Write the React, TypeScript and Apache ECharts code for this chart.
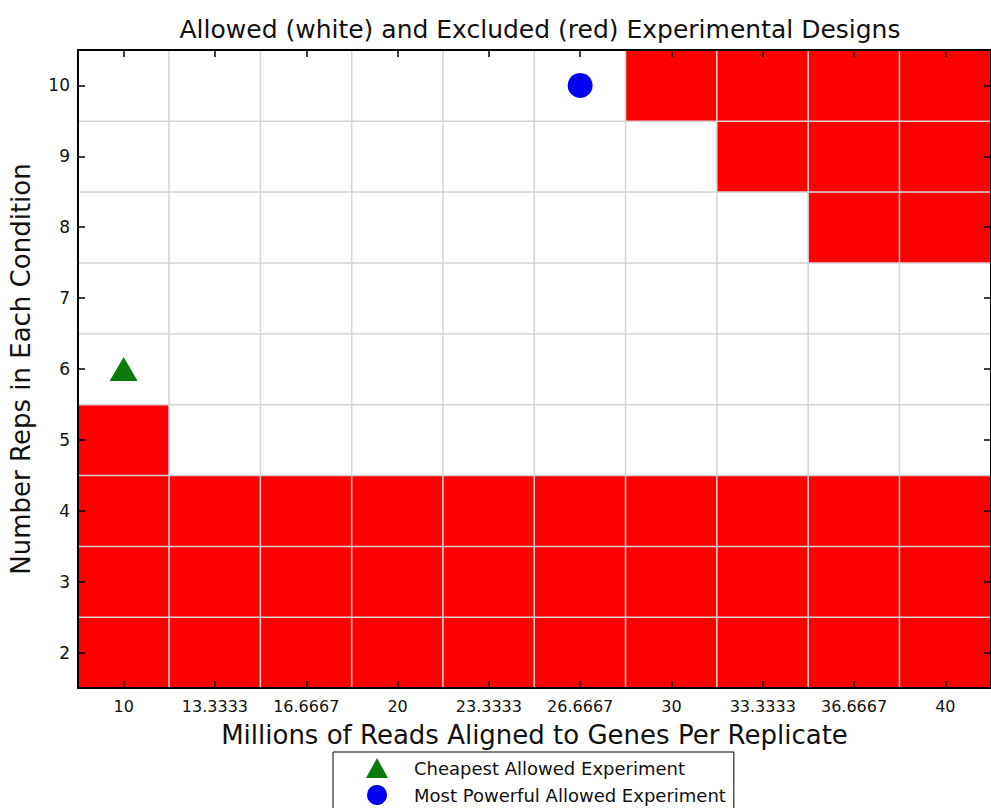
import { useEffect, useRef } from 'react'
import * as echarts from 'echarts'

// millions of reads per replicate (x categories)
const readLabels = ['10', '13.3333', '16.6667', '20', '23.3333', '26.6667', '30', '33.3333', '36.6667', '40']
// replicates per condition (y categories, bottom to top)
const repLabels = ['2', '3', '4', '5', '6', '7', '8', '9', '10']

// 1 = excluded (red), 0 = allowed (white); one row per rep count
const excluded2 = [1, 1, 1, 1, 1, 1, 1, 1, 1, 1]
const excluded3 = [1, 1, 1, 1, 1, 1, 1, 1, 1, 1]
const excluded4 = [1, 1, 1, 1, 1, 1, 1, 1, 1, 1]
const excluded5 = [1, 0, 0, 0, 0, 0, 0, 0, 0, 0]
const excluded6 = [0, 0, 0, 0, 0, 0, 0, 0, 0, 0]
const excluded7 = [0, 0, 0, 0, 0, 0, 0, 0, 0, 0]
const excluded8 = [0, 0, 0, 0, 0, 0, 0, 0, 1, 1]
const excluded9 = [0, 0, 0, 0, 0, 0, 0, 1, 1, 1]
const excluded10 = [0, 0, 0, 0, 0, 0, 1, 1, 1, 1]
const excludedRows = [excluded2, excluded3, excluded4, excluded5, excluded6, excluded7, excluded8, excluded9, excluded10]

const cheapest = ['10', '6']
const mostPowerful = ['26.6667', '10']

const FONT = 'DejaVu Sans'

export default function App() {
  const chartRef = useRef<HTMLDivElement>(null)

  useEffect(() => {
    if (!chartRef.current) return
    const chart = echarts.init(chartRef.current, null, { renderer: 'svg' })

    const cells: number[][] = []
    excludedRows.forEach((row, yi) => {
      row.forEach((v, xi) => cells.push([xi, yi, v]))
    })

    const tickStyle = {
      show: true,
      inside: true,
      length: 7,
      interval: 0,
      alignWithLabel: true,
      lineStyle: { color: '#000', width: 1.5 },
    }
    const lineStyle = { show: true, lineStyle: { color: '#000', width: 2 } }

    chart.setOption({
      animation: false,
      title: {
        text: 'Allowed (white) and Excluded (red) Experimental Designs',
        left: 535,
        top: 12,
        textAlign: 'center',
        textStyle: { fontFamily: FONT, fontSize: 25, fontWeight: 'normal', color: '#111' },
      },
      grid: { left: 78, top: 50, width: 914, height: 638 },
      legend: {
        orient: 'vertical',
        left: 333,
        top: 752,
        height: 80,
        data: ['Cheapest Allowed Experiment', 'Most Powerful Allowed Experiment'],
        backgroundColor: '#fff',
        borderColor: '#000',
        borderWidth: 1,
        borderRadius: 0,
        padding: [6, 8, 8, 33],
        itemWidth: 22,
        itemHeight: 20,
        itemGap: 7,
        textStyle: { fontFamily: FONT, fontSize: 18, color: '#111', padding: [0, 0, 0, 21] },
      },
      visualMap: {
        show: false,
        type: 'piecewise',
        seriesIndex: 0,
        pieces: [
          { value: 0, color: '#ffffff' },
          { value: 1, color: '#ff0000' },
        ],
      },
      xAxis: [
        {
          type: 'category',
          data: readLabels,
          position: 'bottom',
          z: 10,
          name: 'Millions of Reads Aligned to Genes Per Replicate',
          nameLocation: 'middle',
          nameGap: 34,
          nameTextStyle: { fontFamily: FONT, fontSize: 26, color: '#111' },
          axisLine: lineStyle,
          axisTick: tickStyle,
          axisLabel: { interval: 0, hideOverlap: false, fontFamily: FONT, fontSize: 16, color: '#111', margin: 10 },
          splitLine: { show: false },
        },
        {
          type: 'category',
          data: readLabels,
          position: 'top',
          z: 10,
          axisLine: lineStyle,
          axisTick: tickStyle,
          axisLabel: { show: false, interval: 0 },
        },
      ],
      yAxis: [
        {
          type: 'category',
          data: repLabels,
          position: 'left',
          z: 10,
          name: 'Number Reps in Each Condition',
          nameLocation: 'middle',
          nameGap: 44,
          nameTextStyle: { fontFamily: FONT, fontSize: 26, color: '#111' },
          axisLine: lineStyle,
          axisTick: tickStyle,
          axisLabel: { interval: 0, fontFamily: FONT, fontSize: 17, color: '#111', margin: 8 },
          splitLine: { show: false },
        },
        {
          type: 'category',
          data: repLabels,
          position: 'right',
          z: 10,
          axisLine: lineStyle,
          axisTick: tickStyle,
          axisLabel: { show: false, interval: 0 },
        },
      ],
      series: [
        {
          type: 'heatmap',
          data: cells,
          itemStyle: { borderColor: '#d4d4d4', borderWidth: 1.5 },
          emphasis: { disabled: true },
          z: 1,
        },
        {
          name: 'Cheapest Allowed Experiment',
          type: 'scatter',
          symbol: 'triangle',
          symbolSize: [28, 24],
          itemStyle: { color: '#0b7a0b', opacity: 1 },
          data: [cheapest],
          z: 5,
        },
        {
          name: 'Most Powerful Allowed Experiment',
          type: 'scatter',
          symbol: 'circle',
          symbolSize: 25,
          itemStyle: { color: '#0000f0', opacity: 1 },
          data: [mostPowerful],
          z: 5,
        },
      ],
    })

    return () => {
      chart.dispose()
    }
  }, [])

  return (
    <div
      ref={chartRef}
      style={{ position: 'fixed', left: 0, top: 0, width: '991px', height: '808px', background: '#fff' }}
    />
  )
}
